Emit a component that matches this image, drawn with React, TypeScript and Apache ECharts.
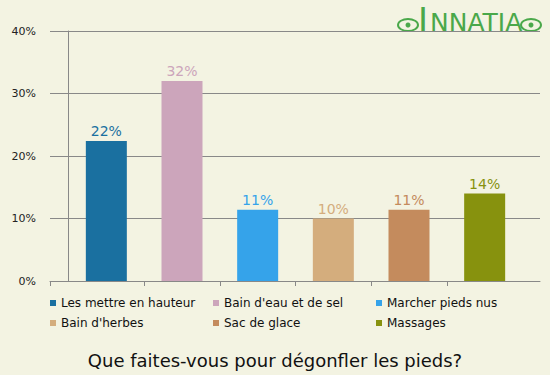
import React, { useEffect, useRef } from "react";
import * as echarts from "echarts";

const categories = [
  "Les mettre en hauteur",
  "Bain d'eau et de sel",
  "Marcher pieds nus",
  "Bain d'herbes",
  "Sac de glace",
  "Massages",
];
const values = [22.4, 32.0, 11.4, 10.0, 11.4, 14.0];
const colors = ["#1a70a0", "#cca5bb", "#35a3ea", "#d4ad7d", "#c48b5d", "#87920e"];
const yTicks = [0, 10, 20, 30, 40];
const title = "Que faites-vous pour dégonfler les pieds?";

const FONT = "DejaVu Sans, Verdana, sans-serif";

export default function App() {
  const ref = useRef<HTMLDivElement>(null);
  useEffect(() => {
    if (!ref.current) return;
    const chart = echarts.init(ref.current, null, { renderer: "svg" });
    const barLeft = 68.5;
    const barRight = 522.5;
    const band = (barRight - barLeft) / categories.length;
    const axisLeft = 50;
    const axisRight = 540;
    const xmin = -(barLeft - axisLeft) / band;
    const xmax = (axisRight - barLeft) / band;
    const boundaryTicks = [xmin, ...categories.slice(1).map((_, i) => i + 1)];

    const legendCols = [0, 1, 2].map((c) => [categories[c], categories[c + 3]]);
    const legendLefts = [50, 213, 376];

    chart.setOption({
      animation: false,
      backgroundColor: "#f3f3e2",
      textStyle: { fontFamily: FONT },
      title: {
        text: title,
        left: "center",
        top: 346,
        textStyle: { fontSize: 18, fontWeight: "normal", color: "#111", fontFamily: FONT },
      },
      legend: legendCols.map((names, i) => ({
        data: names,
        orient: "vertical",
        left: legendLefts[i],
        top: 297,
        padding: 0,
        itemWidth: 6,
        itemHeight: 6,
        itemGap: 8,
        icon: "rect",
        selectedMode: false,
        textStyle: { fontSize: 12, color: "#111", fontFamily: FONT },
      })),
      grid: [
        { left: axisLeft, right: 550 - axisRight, top: 31, bottom: 94 },
        { left: barLeft, right: 550 - barRight, top: 31, bottom: 94 },
      ],
      xAxis: [
        {
          type: "value",
          gridIndex: 0,
          min: xmin,
          max: xmax,
          axisLine: { show: true, lineStyle: { color: "#888", width: 1 } },
          axisTick: { show: true, length: 5, customValues: boundaryTicks, lineStyle: { color: "#888" } },
          axisLabel: { show: false },
          splitLine: { show: false },
        },
        {
          type: "category",
          gridIndex: 1,
          data: categories,
          show: false,
        },
      ],
      yAxis: [
        {
          type: "value",
          gridIndex: 0,
          min: yTicks[0],
          max: yTicks[yTicks.length - 1],
          interval: yTicks[1] - yTicks[0],
          axisLine: { show: true, lineStyle: { color: "#888" } },
          axisTick: { show: true, length: 4, lineStyle: { color: "#888" } },
          axisLabel: { formatter: "{value}%", fontSize: 11, color: "#222", margin: 14, fontFamily: FONT },
          splitLine: { show: true, lineStyle: { color: "#888", width: 1 } },
        },
        {
          type: "value",
          gridIndex: 1,
          min: yTicks[0],
          max: yTicks[yTicks.length - 1],
          show: false,
        },
      ],
      series: categories.map((name, i) => ({
        type: "bar",
        name,
        xAxisIndex: 1,
        yAxisIndex: 1,
        stack: "all",
        barWidth: 41,
        itemStyle: { color: colors[i] },
        data: categories.map((_, j) => (j === i ? values[i] : "-")),
        label: {
          show: true,
          position: "top",
          distance: 3,
          color: colors[i],
          fontSize: 14,
          fontFamily: FONT,
          formatter: (p: any) => Math.round(p.value) + "%",
        },
      })),
      graphic: [
        {
          type: "ellipse",
          shape: { cx: 408, cy: 25, rx: 10, ry: 6 },
          style: { fill: "none", stroke: "#4aa84a", lineWidth: 2 },
        },
        {
          type: "circle",
          shape: { cx: 408, cy: 25, r: 2.5 },
          style: { fill: "#4aa84a" },
        },
        {
          type: "ellipse",
          shape: { cx: 531, cy: 25, rx: 10, ry: 6 },
          style: { fill: "none", stroke: "#4aa84a", lineWidth: 2 },
        },
        {
          type: "circle",
          shape: { cx: 531, cy: 25, r: 2.5 },
          style: { fill: "#4aa84a" },
        },
        {
          type: "text",
          style: {
            text: "I",
            x: 423,
            y: 20,
            align: "center",
            verticalAlign: "middle",
            fill: "#4aa84a",
            font: "34px DejaVu Sans",
          },
        },
        {
          type: "text",
          style: {
            text: "NNATIA",
            x: 430,
            y: 22.5,
            align: "left",
            verticalAlign: "middle",
            fill: "#4aa84a",
            font: "25px DejaVu Sans",
          },
        },
      ],
    });
    return () => chart.dispose();
  }, []);
  return (
    <div
      ref={ref}
      style={{ position: "absolute", left: 0, top: 0, width: 550, height: 375 }}
    />
  );
}
